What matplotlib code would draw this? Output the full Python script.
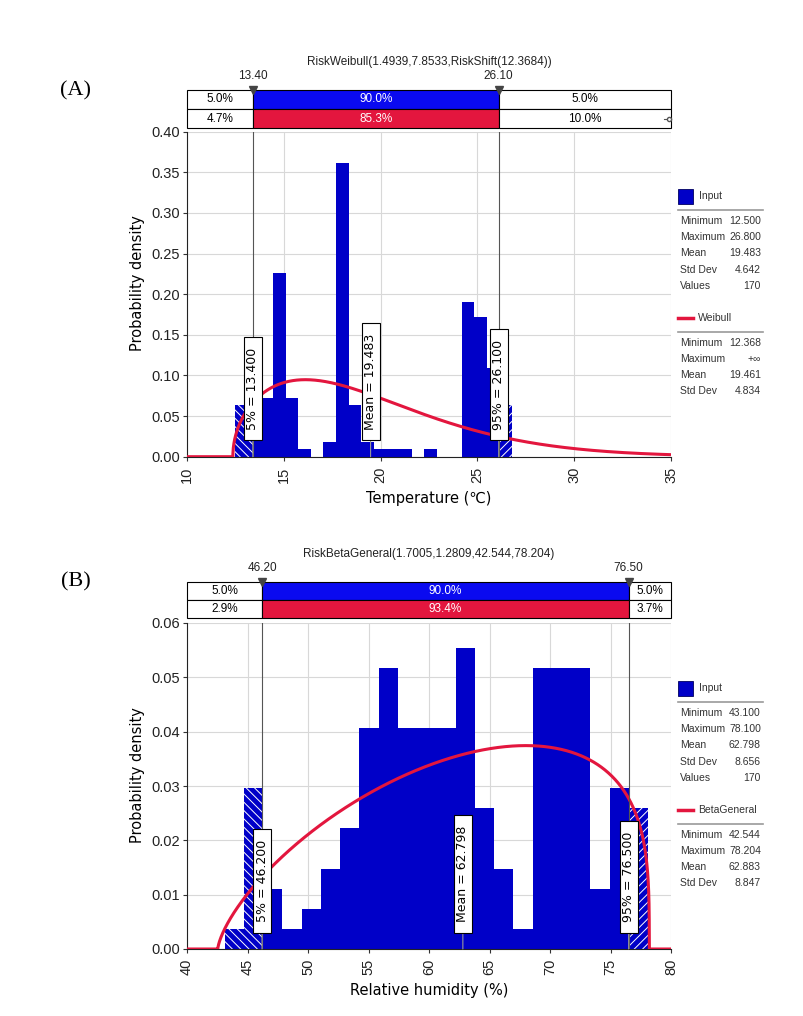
"""
@RISK style fit plots: temperature (Weibull) and relative humidity (BetaGeneral).
"""
import math
import numpy as np
import matplotlib
matplotlib.use("Agg")
import matplotlib.pyplot as plt
from matplotlib.patches import Rectangle
from matplotlib.lines import Line2D

plt.rcParams['font.family'] = ['Liberation Sans', 'DejaVu Sans']
plt.rcParams['hatch.linewidth'] = 0.7

W, H = 804, 1016
BAR_BLUE = '#0000c8'
HDR_BLUE = '#0a0af0'
RED = '#e3163e'

# ---- (A) temperature ----
temp_bin_start = 12.5
temp_bin_width = 0.65
temp_counts = [7, 7, 8, 25, 8, 1, 0, 2, 40, 7, 2, 1, 1, 1, 0, 1, 0, 0, 21, 19, 12, 7]
temp_n = 170
temp_p5, temp_p95, temp_mean = 13.4, 26.1, 19.483
temp_shape, temp_scale, temp_shift = 1.4939, 7.8533, 12.3684
temp_xlim = (10, 35)
temp_ylim = (0, 0.40)
temp_xticks = [10, 15, 20, 25, 30, 35]
temp_yticks = [0.00, 0.05, 0.10, 0.15, 0.20, 0.25, 0.30, 0.35, 0.40]
temp_row1 = ["5.0%", "90.0%", "5.0%"]
temp_row2 = ["4.7%", "85.3%", "10.0%"]
temp_title = "RiskWeibull(1.4939,7.8533,RiskShift(12.3684))"
temp_input_stats = [("Minimum", "12.500"), ("Maximum", "26.800"), ("Mean", "19.483"),
                    ("Std Dev", "4.642"), ("Values", "170")]
temp_fit_name = "Weibull"
temp_fit_stats = [("Minimum", "12.368"), ("Maximum", "+\u221e"), ("Mean", "19.461"),
                  ("Std Dev", "4.834")]

# ---- (B) relative humidity ----
hum_bin_start = 43.1
hum_bin_width = 35.0 / 22
hum_counts = [1, 8, 3, 1, 2, 4, 6, 11, 14, 11, 11, 11, 15, 7, 4, 1, 14, 14, 14, 3, 8, 7]
hum_n = 170
hum_p5, hum_p95, hum_mean = 46.2, 76.5, 62.798
hum_a1, hum_a2, hum_lo, hum_hi = 1.7005, 1.2809, 42.544, 78.204
hum_xlim = (40, 80)
hum_ylim = (0, 0.06)
hum_xticks = [40, 45, 50, 55, 60, 65, 70, 75, 80]
hum_yticks = [0.00, 0.01, 0.02, 0.03, 0.04, 0.05, 0.06]
hum_row1 = ["5.0%", "90.0%", "5.0%"]
hum_row2 = ["2.9%", "93.4%", "3.7%"]
hum_title = "RiskBetaGeneral(1.7005,1.2809,42.544,78.204)"
hum_input_stats = [("Minimum", "43.100"), ("Maximum", "78.100"), ("Mean", "62.798"),
                   ("Std Dev", "8.656"), ("Values", "170")]
hum_fit_name = "BetaGeneral"
hum_fit_stats = [("Minimum", "42.544"), ("Maximum", "78.204"), ("Mean", "62.883"),
                 ("Std Dev", "8.847")]


def weibull_pdf(x, shape, scale, shift):
    z = np.clip((x - shift) / scale, 0, None)
    return shape / scale * z ** (shape - 1) * np.exp(-z ** shape)


def beta_pdf(x, a1, a2, lo, hi):
    out = np.zeros_like(x)
    m = (x > lo) & (x < hi)
    t = (x[m] - lo) / (hi - lo)
    log_b = math.lgamma(a1) + math.lgamma(a2) - math.lgamma(a1 + a2)
    out[m] = np.exp((a1 - 1) * np.log(t) + (a2 - 1) * np.log(1 - t) - log_b) / (hi - lo)
    return out


def fbox(x, y, w, h):
    # pixel box (top-left origin) -> figure fraction rect
    return [x / W, 1 - (y + h) / H, w / W, h / H]


def ftext(fig, x, y, s, **kw):
    fig.text(x / W, 1 - y / H, s, **kw)


def fline(fig, x0, x1, y, **kw):
    fig.add_artist(Line2D([x0 / W, x1 / W], [1 - y / H] * 2, transform=fig.transFigure, **kw))


def draw_panel(fig, ax_px, hdr_px, counts, start, width, n, p5, p95, mean, xs, pdf,
               xlim, ylim, xticks, yticks, xlabel, row1, row2, title, right_marker):
    ax = fig.add_axes(fbox(*ax_px))
    hdr = fig.add_axes(fbox(*hdr_px))

    lefts = start + width * np.arange(len(counts))
    dens = np.array(counts) / (n * width)
    ax.bar(lefts, dens, width=width, align='edge', color=BAR_BLUE, lw=0, zorder=2)

    # hatched tails outside the 5%-95% band
    for l, d in zip(lefts, dens):
        r = l + width
        if d <= 0:
            continue
        if l < p5:
            ax.bar(l, d, width=min(r, p5) - l, align='edge', facecolor=BAR_BLUE,
                   edgecolor='white', hatch='\\\\\\\\', lw=0, zorder=2.1)
        if r > p95:
            lo = max(l, p95)
            ax.bar(lo, d, width=r - lo, align='edge', facecolor=BAR_BLUE,
                   edgecolor='white', hatch='////', lw=0, zorder=2.1)

    ax.plot(xs, pdf, color=RED, lw=2.2, zorder=3, solid_capstyle='butt')

    for p in (p5, p95):
        ax.axvline(p, color='#555555', lw=0.8, zorder=3.5)

    labels = [(p5, "  5%% = %.3f  " % p5), (mean, "  Mean = %.3f  " % mean),
              (p95, "  95%% = %.3f  " % p95)]
    for x, s in labels:
        ax.annotate(s, xy=(x, 0), xytext=(0, 19), textcoords='offset pixels',
                    rotation=90, ha='center', va='bottom', fontsize=9,
                    family='DejaVu Sans', zorder=5,
                    bbox=dict(boxstyle='square,pad=0.2', fc='white', ec='black', lw=0.8),
                    arrowprops=dict(arrowstyle='-', color='#9a9a9a', lw=0.8,
                                    shrinkA=0, shrinkB=0))

    ax.set_xlim(*xlim)
    ax.set_ylim(*ylim)
    ax.set_xticks(xticks)
    ax.set_yticks(yticks)
    ax.set_yticklabels(["%.2f" % v for v in yticks])
    ax.tick_params(axis='x', labelrotation=90, length=3, pad=4, labelsize=10.5,
                   color='#333333', labelcolor='#222222')
    ax.tick_params(axis='y', length=3, pad=2, labelsize=10.5, color='#333333',
                   labelcolor='#222222')
    ax.grid(True, color='#d8d8d8', lw=0.8, zorder=0)
    ax.set_axisbelow(True)
    for side in ('top', 'right'):
        ax.spines[side].set_visible(False)
    for side in ('left', 'bottom'):
        ax.spines[side].set_color('#222222')
    ax.set_ylabel("Probability density", fontsize=10.5, family='DejaVu Sans')
    ax.yaxis.set_label_coords(-0.087, 0.535)
    ax.set_xlabel(xlabel, fontsize=10.5, family='DejaVu Sans')
    ax.xaxis.set_label_coords(0.5, -0.105)

    # header band with percentile split
    hdr.set_xlim(*xlim)
    hdr.set_ylim(0, 2)
    hdr.axis('off')
    for y0, row, mid in ((1, row1, HDR_BLUE), (0, row2, RED)):
        segs = [(xlim[0], p5, 'white'), (p5, p95, mid), (p95, xlim[1], 'white')]
        for (a, b, c), s in zip(segs, row):
            hdr.add_patch(Rectangle((a, y0), b - a, 1, fc=c, ec='black', lw=0.8,
                                    clip_on=False))
            hdr.text((a + b) / 2, y0 + 0.5, s, ha='center', va='center', fontsize=8.5,
                     color='black' if c == 'white' else 'white')
    for p in (p5, p95):
        hdr.plot([p], [2.0], marker='v', ms=6, color='#444444', clip_on=False, zorder=4)
        hdr.annotate("%.2f" % p, xy=(p, 2), xytext=(0, 14), textcoords='offset pixels',
                     ha='center', va='center', fontsize=8.5, color='#222222')
    hdr.annotate(title, xy=(0.5, 1), xycoords='axes fraction', xytext=(0, 28),
                 textcoords='offset pixels', ha='center', va='center', fontsize=8.5,
                 color='#222222')
    if right_marker:
        hdr.plot([xlim[1] - 0.35, xlim[1]], [0.5, 0.5], color='#555555', lw=0.8,
                 clip_on=False)
        hdr.plot([xlim[1] - 0.1], [0.5], marker='o', ms=3, mfc='white', mec='#555555',
                 clip_on=False)
    return ax


def draw_legend(fig, top, input_stats, fit_name, fit_stats):
    x0, x1 = 678, 763
    fig.add_artist(Rectangle((x0 / W, 1 - (top + 7.5) / H), 15 / W, 15 / H,
                             transform=fig.transFigure, fc=BAR_BLUE, ec='#000060', lw=0.6))
    ftext(fig, 699, top, "Input", fontsize=7.5, va='center', color='#333333')
    fline(fig, x0, x1, top + 14, color='#9a9a9a', lw=1.2)
    for i, (k, v) in enumerate(input_stats):
        y = top + 25 + 16.2 * i
        ftext(fig, 680, y, k, fontsize=7.5, va='center', color='#333333')
        ftext(fig, 761, y, v, fontsize=7.5, va='center', ha='right', color='#333333')
    fline(fig, x0, x0 + 15, top + 122, color=RED, lw=2.5)
    ftext(fig, 698, top + 122, fit_name, fontsize=7.5, va='center', color='#333333')
    fline(fig, x0, x1, top + 136, color='#9a9a9a', lw=1.2)
    for i, (k, v) in enumerate(fit_stats):
        y = top + 147.5 + 16 * i
        ftext(fig, 680, y, k, fontsize=7.5, va='center', color='#333333')
        ftext(fig, 761, y, v, fontsize=7.5, va='center', ha='right', color='#333333')


fig = plt.figure(figsize=(W / 100, H / 100), dpi=100)

xs_t = np.sort(np.append(np.linspace(temp_xlim[0], temp_xlim[1], 2500), temp_shift))
pdf_t = weibull_pdf(xs_t, temp_shape, temp_scale, temp_shift)
draw_panel(fig, (187, 131.7, 484, 325), (187, 90, 484, 38),
           temp_counts, temp_bin_start, temp_bin_width, temp_n,
           temp_p5, temp_p95, temp_mean, xs_t, pdf_t,
           temp_xlim, temp_ylim, temp_xticks, temp_yticks,
           "Temperature (\u2103)", temp_row1, temp_row2, temp_title, True)
draw_legend(fig, 196, temp_input_stats, temp_fit_name, temp_fit_stats)

xs_h = np.sort(np.concatenate([np.linspace(hum_xlim[0], hum_xlim[1], 3000),
                               [hum_lo, hum_hi], np.linspace(hum_hi - 0.3, hum_hi, 200)]))
pdf_h = beta_pdf(xs_h, hum_a1, hum_a2, hum_lo, hum_hi)
draw_panel(fig, (187, 623, 484, 326), (187, 582, 484, 36),
           hum_counts, hum_bin_start, hum_bin_width, hum_n,
           hum_p5, hum_p95, hum_mean, xs_h, pdf_h,
           hum_xlim, hum_ylim, hum_xticks, hum_yticks,
           "Relative humidity (%)", hum_row1, hum_row2, hum_title, False)
draw_legend(fig, 688, hum_input_stats, hum_fit_name, hum_fit_stats)

ftext(fig, 76, 91, "(A)", fontsize=16, family='Liberation Serif', ha='center', va='center')
ftext(fig, 76, 582, "(B)", fontsize=16, family='Liberation Serif', ha='center', va='center')

fig.savefig("out.png", dpi=100)
